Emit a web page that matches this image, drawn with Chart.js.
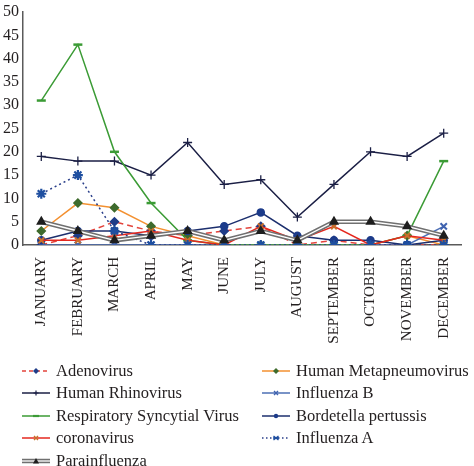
<!DOCTYPE html>
<html><head><meta charset="utf-8">
<script src="https://cdn.jsdelivr.net/npm/chart.js@4.4.0/dist/chart.umd.min.js"></script>
<style>
html,body{margin:0;padding:0;background:#fff;}
#wrap{position:relative;width:474px;height:466px;overflow:hidden;}
#c{position:absolute;left:0;top:0;}
.li{position:absolute;height:20px;display:flex;align-items:center;font-family:"Liberation Serif",serif;font-size:16.5px;color:#231f20;white-space:nowrap;}
.li svg{margin-right:6px;flex:none;}
</style></head>
<body><div id="wrap"><canvas id="c" width="474" height="466"></canvas><div id="legend"></div></div>
<script>
const months = ["JANUARY","FEBRUARY","MARCH","APRIL","MAY","JUNE","JULY","AUGUST","SEPTEMBER","OCTOBER","NOVEMBER","DECEMBER"];
const adenovirus = [0,2,5,3,2,3,4,0,1,0,0,0];
const humanMetapneumovirus = [3,9,8,4,2,0,0,0,0,0,2,0];
const humanRhinovirus = [19,18,18,15,22,13,14,6,13,20,19,24];
const influenzaB = [0,0,0,0,0,0,0,0,0,0,0,4];
const respiratorySyncytialVirus = [31,43,20,9,1,0,0,0,0,0,2,18];
const bordetellaPertussis = [1,3,3,2,3,4,7,2,1,1,0,1];
const coronavirus = [1,1,2,3,1,0,4,1,4,0,2,1];
const influenzaA = [11,15,3,0,0,0,0,0,0,0,0,0];
const parainfluenza = [5,3,1,2,3,1,3,1,5,5,4,2];
const yTicks = [0,5,10,15,20,25,30,35,40,45,50];

const FONT = "Liberation Serif";
const TXT = "#231f20";

function ds(label, data, color, opts, idx) {
  return Object.assign({
    label, data, borderColor: color, backgroundColor: color, borderWidth: 1.5,
    tension: 0, fill: false, order: -idx, pointRadius: 3.5, pointBorderWidth: 1.5
  }, opts);
}

const datasets = [
  ds("Adenovirus", adenovirus, "#e3443c", {borderDash:[6,4], pointStyle:"rectRot", pointBackgroundColor:"#1f3c88", pointBorderColor:"#1f3c88", pointRadius:4}, 0),
  ds("Human Metapneumovirus", humanMetapneumovirus, "#f39030", {pointStyle:"rectRot", pointBackgroundColor:"#3e6b2d", pointBorderColor:"#3e6b2d", pointRadius:4}, 1),
  ds("Human Rhinovirus", humanRhinovirus, "#1b1f45", {pointStyle:"cross", pointBorderColor:"#1b1f45", pointRadius:4.5, pointBorderWidth:1.3}, 2),
  ds("Influenza B", influenzaB, "#4d6fb5", {pointStyle:"crossRot", pointBorderColor:"#3f63b0", pointRadius:4.5, pointBorderWidth:2}, 3),
  ds("Respiratory Syncytial Virus", respiratorySyncytialVirus, "#3b9b35", {pointStyle:"line", pointBorderColor:"#3b9b35", pointRadius:4.5, pointBorderWidth:2.5}, 4),
  ds("Bordetella pertussis", bordetellaPertussis, "#1c2f6e", {pointStyle:"circle", pointBackgroundColor:"#1c3b8a", pointBorderColor:"#1c3b8a", pointRadius:3.5}, 5),
  ds("coronavirus", coronavirus, "#e5281f", {pointStyle:"crossRot", pointBorderColor:"#c8702a", pointRadius:4, pointBorderWidth:2}, 6),
  ds("Influenza A", influenzaA, "#2a3f8a", {borderDash:[2,3], pointStyle:"star", pointBorderColor:"#1f4fa0", pointRadius:5, pointBorderWidth:2.2}, 7),
  ds("Parainfluenza", parainfluenza, "#707070", {borderWidth:4.5, pointRadius:0}, 8),
  ds("Parainfluenza inner", parainfluenza, "#ffffff", {borderWidth:1.4, pointRadius:0}, 9),
  ds("Parainfluenza markers", parainfluenza, "#1e1e1e", {showLine:false, pointStyle:"triangle", pointBackgroundColor:"#1e1e1e", pointBorderColor:"#1e1e1e", pointRadius:4.5}, 10)
];

new Chart(document.getElementById("c"), {
  type: "line",
  data: { labels: months, datasets },
  options: {
    responsive: false, animation: false,
    layout: { padding: { top: -3, right: 0, left: 0, bottom: 0 } },
    plugins: { legend: { display: false }, tooltip: { enabled: false } },
    scales: {
      x: {
        offset: true,
        grid: { drawOnChartArea: false, drawTicks: false },
        border: { display: true, color: "#5a5a5a", width: 1.5 },
        ticks: { maxRotation: 90, minRotation: 90, padding: 12, color: TXT, font: { family: FONT, size: 15 } },
        afterFit: s => { s.height = 466 - 245; }
      },
      y: {
        min: 0, max: 50,
        grid: { drawOnChartArea: false, drawTicks: false },
        border: { display: true, color: "#5a5a5a", width: 1.5 },
        afterBuildTicks: s => { s.ticks = yTicks.map(v => ({ value: v })); },
        ticks: { padding: 4, color: TXT, font: { family: FONT, size: 16, lineHeight: 1 } },
        afterFit: s => { s.width = 23; }
      }
    }
  }
});

// Legend
const legendItems = [
  ["Adenovirus", {c:"#e3443c", dash:"4,3", m:"diamond", mc:"#1f3c88"}],
  ["Human Metapneumovirus", {c:"#f39030", m:"diamond", mc:"#3e6b2d"}],
  ["Human Rhinovirus", {c:"#1b1f45", m:"plus", mc:"#1b1f45"}],
  ["Influenza B", {c:"#4d6fb5", m:"x", mc:"#3f63b0"}],
  ["Respiratory Syncytial Virus", {c:"#3b9b35", m:"dash", mc:"#3b9b35"}],
  ["Bordetella pertussis", {c:"#1c2f6e", m:"dot", mc:"#1c3b8a"}],
  ["coronavirus", {c:"#e5281f", m:"x", mc:"#c8702a"}],
  ["Influenza A", {c:"#2a3f8a", dash:"1.5,2.5", m:"star", mc:"#1f4fa0"}],
  ["Parainfluenza", {c:"#707070", w:4.5, inner:true, m:"tri", mc:"#1e1e1e"}]
];
function marker(m, c) {
  const x = 14, y = 6;
  switch (m) {
    case "diamond": return `<polygon points="${x},${y-3} ${x+3},${y} ${x},${y+3} ${x-3},${y}" fill="${c}"/>`;
    case "plus": return `<path d="M${x-2.5} ${y}H${x+2.5}M${x} ${y-2.5}V${y+2.5}" stroke="${c}" stroke-width="1.2"/>`;
    case "x": return `<path d="M${x-2} ${y-2}L${x+2} ${y+2}M${x+2} ${y-2}L${x-2} ${y+2}" stroke="${c}" stroke-width="1.4"/>`;
    case "dash": return `<path d="M${x-3} ${y}H${x+3}" stroke="${c}" stroke-width="2.2"/>`;
    case "dot": return `<circle cx="${x}" cy="${y}" r="2.2" fill="${c}"/>`;
    case "star": return `<path d="M${x-2.5} ${y-2}L${x+2.5} ${y+2}M${x+2.5} ${y-2}L${x-2.5} ${y+2}M${x-3} ${y}H${x+3}" stroke="${c}" stroke-width="1.4"/>`;
    case "tri": return `<polygon points="${x},${y-3} ${x+3},${y+2.5} ${x-3},${y+2.5}" fill="${c}"/>`;
  }
  return "";
}
const leg = document.getElementById("legend");
const colX = [22, 262], rowY = [370.7, 393.3, 415.8, 438.3, 461];
legendItems.forEach(([t, s], i) => {
  const col = i % 2, row = Math.floor(i / 2);
  const d = document.createElement("div");
  d.className = "li";
  d.style.left = colX[col] + "px";
  d.style.top = (rowY[row] - 10) + "px";
  let svg = `<svg width="28" height="12" viewBox="0 0 28 12">`;
  svg += `<line x1="0" y1="6" x2="28" y2="6" stroke="${s.c}" stroke-width="${s.w||1.5}" ${s.dash?`stroke-dasharray="${s.dash}"`:""}/>`;
  if (s.inner) svg += `<line x1="0" y1="6" x2="28" y2="6" stroke="#fff" stroke-width="1.3"/>`;
  svg += marker(s.m, s.mc) + `</svg>`;
  d.innerHTML = svg + `<span>${t}</span>`;
  leg.appendChild(d);
});
</script>
</body></html>
